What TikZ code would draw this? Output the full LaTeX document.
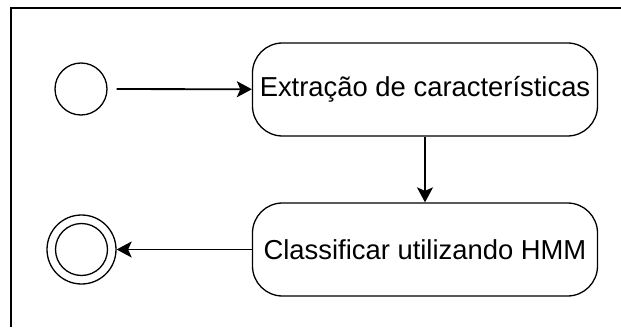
\documentclass[tikz,border=0pt]{standalone}
\usepackage{fontspec}
\setmainfont{Liberation Sans}
\usetikzlibrary{arrows.meta}
\begin{document}
\begin{tikzpicture}[x=1pt,y=1pt,
    activity/.style={draw,line width=1.3pt,rounded corners=30pt,minimum width=345pt,minimum height=93pt,inner sep=0pt,font=\fontsize{27.4}{32}\selectfont},
    initial/.style={draw,circle,line width=1.3pt,minimum size=52pt,inner sep=0pt},
    final/.style={draw,circle,line width=1.3pt,minimum size=69pt,inner sep=0pt},
    flow/.style={line width=1.8pt,-{Stealth[length=15pt,width=16pt,inset=3.5pt]}}]
\useasboundingbox (0,0) rectangle (621,327);
% frame
\draw[line width=2pt] (10.5,0) -- (10.5,319.2) -- (621,319.2);
% states
\node[initial] (start) at (81,238) {};
\node[final] (stop) at (81.5,77.5) {};
\draw[line width=1.3pt] (stop.center) circle (26pt);
% activities
\node[activity] (extract) at (425,237.5) {Extração de características};
\node[activity] (classify) at (425,77.5) {Classificar utilizando HMM};
% flows
\draw[flow,shorten <=9pt] (start) -- (extract);
\draw[flow] (extract) -- (classify);
\draw[flow] (classify) -- (stop);
\end{tikzpicture}
\end{document}
